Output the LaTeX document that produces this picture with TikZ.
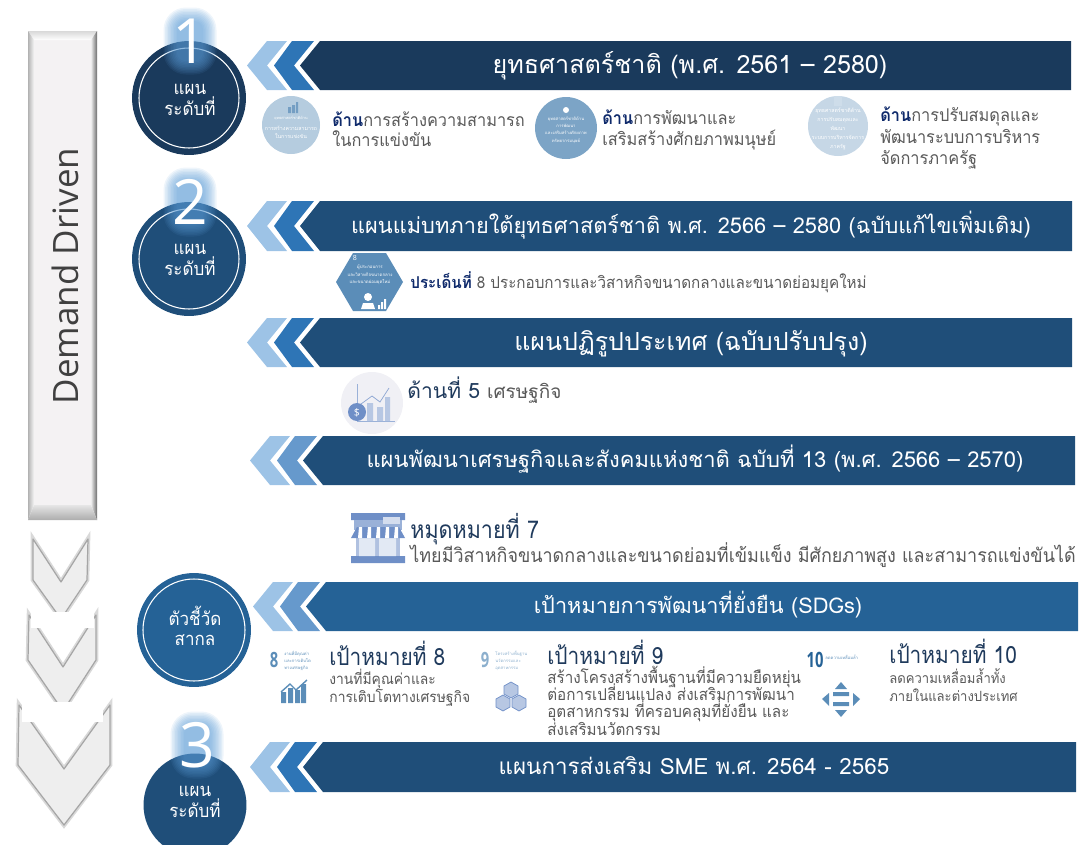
\documentclass[tikz,border=0pt]{standalone}
\usepackage{fontspec}
\setmainfont[Script=Thai]{Loma}
\newfontfamily\latinfont{Open Sans}
\newfontfamily\bodyfont[Script=Thai,FakeStretch=0.93]{Loma}
\newfontfamily\headfont[Script=Thai,FakeStretch=0.88]{Loma}
\newfontfamily\sdgfont[FakeStretch=0.7]{Open Sans}

\definecolor{navyA}{HTML}{1A3A5C}
\definecolor{navyB}{HTML}{1F4E79}
\definecolor{navyC}{HTML}{256296}
\definecolor{midA}{HTML}{2E75B6}
\definecolor{midB}{HTML}{6699CC}
\definecolor{lightA}{HTML}{9DC3E6}
\definecolor{glowblue}{HTML}{5B9BD5}
\definecolor{headtext}{HTML}{0F2A6B}
\definecolor{bodytext}{HTML}{595959}
\definecolor{goaltext}{HTML}{1F3A5C}
\definecolor{iconblue}{HTML}{5B8DB8}
\definecolor{shopblue}{HTML}{6F8FC7}
\definecolor{boxface}{HTML}{F4F2F3}

\tikzset{
  plancircle/.style={circle,inner sep=0pt,minimum size=2.28cm},
  circletext/.style={text=white,inner sep=0pt,anchor=base,font=\bodyfont\fontsize{10.4}{12}\selectfont},
  bignum/.style={text=white,inner sep=0pt,font=\latinfont\fontsize{35.5}{40}\selectfont},
  titletext/.style={text=white,inner sep=0pt,anchor=base},
  bodyline/.style={text=bodytext,anchor=base west,inner sep=0pt,font=\bodyfont\fontsize{10}{12}\selectfont},
  goalhead/.style={text=goaltext,anchor=base west,inner sep=0pt,font=\headfont\fontsize{13.5}{16}\selectfont},
  goalline/.style={text=bodytext,anchor=base west,inner sep=0pt,font=\bodyfont\fontsize{9.3}{10}\selectfont},
  tinytext/.style={inner sep=0pt,align=center,font=\fontsize{3}{4.6}\selectfont},
  tinyleft/.style={text=iconblue,inner sep=0pt,anchor=north west,align=left,font=\fontsize{2.4}{4}\selectfont},
  goalnum/.style={text=iconblue,inner sep=0pt,font=\sdgfont\bfseries\fontsize{12}{13}\selectfont},
  chevshape/.style={fill=gray!13,draw=gray!70,line width=0.7pt,line join=round,
    preaction={draw=gray!30,line width=2.6pt}},
}

\begin{document}
\begin{tikzpicture}[x=0.02cm,y=-0.02cm]
  \useasboundingbox (0,0) rectangle (1082,845);

  % the tall bevelled box
  \fill[boxface] (34,40) rectangle (91,505);
  \shade[top color=gray!30,bottom color=white] (28,31) -- (97,31) -- (91,40) -- (34,40) -- cycle;
  \shade[left color=gray!60,right color=gray!8] (28,31) -- (34,40) -- (34,505) -- (28,520) -- cycle;
  \shade[left color=gray!15,right color=gray!85!black] (97,31) -- (97,520) -- (91,505) -- (91,40) -- cycle;
  \shade[top color=gray!20,bottom color=gray!65] (28,520) -- (97,520) -- (91,505) -- (34,505) -- cycle;
  \node[rotate=90,text=black!75,inner sep=0pt,font=\latinfont\fontsize{19.9}{22}\selectfont] (driven) at (65,276) {Demand Driven};

  % the three chevrons under the box
  \draw[chevshape] (33,539) -- (61,582) -- (88,539) -- (87,580) -- (61,619) -- (33,580) -- cycle;
  \draw[chevshape] (29,615) -- (63,667) -- (96,615) -- (96,660) -- (63,711) -- (28,660) -- cycle;
  \fill[white] (31,612) rectangle (94,628);
  \draw[chevshape] (19,705) -- (64,769) -- (110,705) -- (110,765) -- (64,825) -- (18,765) -- cycle;
  \fill[white] (22,702) rectangle (103,722);

  % the banners with their two chevrons
  \foreach \t/\ya/\yb/\rr/\bandcol/\midcol in {
      247/41/90/1071/navyA/midA, 247/201/251/1072/navyB/midA, 247/318/367/1072/navyB/midA,
      250/436/485/1075/navyB/midB, 253/582/631/1078/navyC/midB, 250/742/792/1076/navyB/midA} {
    \pgfmathsetmacro\ym{(\ya+\yb)/2}
    \fill[lightA] (\t,\ym) -- (\t+20,\ya) -- (\t+40,\ya) -- (\t+20,\ym) -- (\t+40,\yb) -- (\t+20,\yb) -- cycle;
    \fill[\midcol] (\t+27,\ym) -- (\t+45,\ya) -- (\t+67,\ya) -- (\t+47,\ym) -- (\t+67,\yb) -- (\t+45,\yb) -- cycle;
    \fill[\bandcol] (\t+53,\ym) -- (\t+73,\ya) -- (\rr,\ya) -- (\rr,\yb) -- (\t+73,\yb) -- cycle;
  }
  \node[titletext,font=\fontsize{14.3}{16}\selectfont] (title1) at (690,73) {ยุทธศาสตร์ชาติ (พ.ศ. 2561 – 2580)};
  \node[titletext,font=\fontsize{12.4}{16}\selectfont] (title2) at (691,233) {แผนแม่บทภายใต้ยุทธศาสตร์ชาติ พ.ศ. 2566 – 2580 (ฉบับแก้ไขเพิ่มเติม)};
  \node[titletext,font=\fontsize{14.2}{16}\selectfont] (title3) at (691,350) {แผนปฏิรูปประเทศ (ฉบับปรับปรุง)};
  \node[titletext,font=\fontsize{12.5}{16}\selectfont] (title4) at (695,467) {แผนพัฒนาเศรษฐกิจและสังคมแห่งชาติ ฉบับที่ 13 (พ.ศ. 2566 – 2570)};
  \node[titletext,font=\fontsize{12.35}{16}\selectfont] (title5) at (698,613) {เป้าหมายการพัฒนาที่ยั่งยืน (SDGs)};
  \node[titletext,font=\fontsize{12.75}{16}\selectfont] (title6) at (694,774) {แผนการส่งเสริม SME พ.ศ. 2564 - 2565};

  % the round labels
  \node[plancircle,fill=navyA] (circ1) at (189,98) {};
  \node[plancircle,fill=navyB] (circ2) at (189,259) {};
  \node[plancircle,fill=navyC] (circ4) at (194,630) {};
  \node[plancircle,fill=navyB,minimum size=2.06cm] (circ3) at (195,805) {};
  \draw[white,semithick] (circ1) circle (50);
  \draw[white,semithick] (circ2) circle (50);
  \draw[white,semithick] (circ4) circle (51);

  % the glowing numbers
  \foreach \cx/\ya/\yb in {190/22/60, 190/182/222, 197/726/764} {
    \foreach \g in {1,2.5,...,14.5} {
      \fill[glowblue,opacity=0.1,rounded corners=4+0.6*\g] (\cx-12-\g,\ya-\g) rectangle (\cx+12+\g,\yb+\g);
    }
  }
  \node[circletext] (plan1a) at (190,94) {แผน};
  \node[circletext] (plan1b) at (190,115) {ระดับที่};
  \node[circletext] (plan2a) at (190,254) {แผน};
  \node[circletext] (plan2b) at (190,275) {ระดับที่};
  \node[circletext] (sdga) at (195,625) {ตัวชี้วัด};
  \node[circletext] (sdgb) at (195,645) {สากล};
  \node[circletext] (plan3a) at (195,796) {แผน};
  \node[circletext] (plan3b) at (195,817) {ระดับที่};
  \node[bignum] (num1) at (190,41) {1};
  \node[bignum] (num2) at (190,202) {2};
  \node[bignum] (num3) at (197,745) {3};

  % first row
  \fill[iconblue!45] (291,125) circle (29);
  \fill[iconblue!85] (288,107) rectangle (291,113) (292,105) rectangle (295,113) (296,102) rectangle (298,113);
  \node[tinytext,text=white,font=\fontsize{2.2}{3}\selectfont] (icon1top) at (291,118) {ยุทธศาสตร์ชาติด้าน};
  \node[tinytext,text=white] (icon1) at (291,132) {การสร้างความสามารถ\\ในการแข่งขัน};
  \node[bodyline] (side1a) at (332,126) {\textcolor{headtext}{\bfseries ด้าน}การสร้างความสามารถ};
  \node[bodyline] (side1b) at (332,146) {ในการแข่งขัน};
  \fill[iconblue!80] (566,128) circle (31);
  \fill[white] (566,110) circle (3);
  \node[tinytext,text=white,font=\fontsize{2.4}{4.2}\selectfont] (icon2) at (566,130) {ยุทธศาสตร์ชาติด้าน\\การพัฒนา\\และเสริมสร้างศักยภาพ\\ทรัพยากรมนุษย์};
  \node[bodyline] (side2a) at (602,124) {\textcolor{headtext}{\bfseries ด้าน}การพัฒนาและ};
  \node[bodyline] (side2b) at (602,145) {เสริมสร้างศักยภาพมนุษย์};
  \fill[iconblue!35] (838,126) circle (30);
  \fill[white!70!iconblue] (834,96) rectangle (842,106);
  \node[tinytext,text=white,font=\fontsize{3}{5.2}\selectfont] (icon3) at (838,129) {ยุทธศาสตร์ชาติด้าน\\การปรับสมดุลและ\\พัฒนา\\ระบบการบริหารจัดการ\\ภาครัฐ};
  \node[bodyline] (side3a) at (880,121) {\textcolor{headtext}{\bfseries ด้าน}การปรับสมดุลและ};
  \node[bodyline] (side3b) at (880,143) {พัฒนาระบบการบริหาร};
  \node[bodyline] (side3c) at (880,164) {จัดการภาครัฐ};

  % second row
  \fill[iconblue] (336,282) -- (353,253) -- (386,253) -- (403,282) -- (386,311) -- (353,311) -- cycle;
  \node[tinytext,text=white,font=\latinfont\fontsize{4}{5}\selectfont] (hex8) at (355,258) {8};
  \node[tinytext,text=white,font=\fontsize{2.5}{4.4}\selectfont] (hextext) at (370,275) {ผู้ประกอบการ\\และวิสาหกิจขนาดกลาง\\และขนาดย่อมยุคใหม่};
  \fill[white] (368,297) circle (4) (361,309) -- (363,303) -- (373,303) -- (375,309) -- cycle;
  \fill[white] (378,309) rectangle (380,305) (381,309) rectangle (383,302) (384,309) rectangle (386,299);
  \node[bodyline,font=\bodyfont\fontsize{9.3}{11}\selectfont] (issue8) at (410,288) {\textcolor{headtext}{\bfseries ประเด็นที่} 8 ประกอบการและวิสาหกิจขนาดกลางและขนาดย่อมยุคใหม่};

  % third row
  \fill[blue!20!gray!10] (372,403) circle (31);
  \draw[shopblue!70] (357,384) -- (357,421) -- (395,421);
  \fill[shopblue!50] (367,403) rectangle (373,421) (377,407) rectangle (383,421) (385,397) rectangle (390,421);
  \draw[shopblue!80] (361,404) -- (372,396) -- (380,402) -- (389,388);
  \fill[shopblue] (357,412) circle (9);
  \node[inner sep=0pt,text=white,font=\latinfont\fontsize{6}{7}\selectfont] (dollar) at (357,413) {\$};
  \node[goalhead,font=\fontsize{12}{15}\selectfont] (part5) at (407,398) {ด้านที่ 5 \textcolor{bodytext}{\fontsize{10.8}{12}\selectfont เศรษฐกิจ}};

  % fourth row
  \fill[shopblue] (351,513) rectangle (405,520) (351,556) rectangle (405,563);
  \fill[shopblue!70] (354,520) rectangle (402,530);
  \fill[white!70!shopblue] (383,517) rectangle (400,524);
  \fill[shopblue!55] (356,530) rectangle (400,556);
  \fill[white!80!shopblue] (359,538) rectangle (375,556) (379,538) rectangle (396,556);
  \fill[shopblue] (351,538) -- (357,527) -- (399,527) -- (405,538) -- cycle;
  \foreach \sx in {359,368,...,395} {
    \fill[white] (\sx,527) -- (\sx+3,527) -- (\sx+3,538) -- (\sx-1,538) -- cycle;
  }
  \node[goalhead,font=\headfont\fontsize{13.9}{16}\selectfont] (pin7) at (410,538) {หมุดหมายที่ 7};
  \node[bodyline,font=\bodyfont\fontsize{11}{13}\selectfont] (pin7text) at (410,562) {ไทยมีวิสาหกิจขนาดกลางและขนาดย่อมที่เข้มแข็ง มีศักยภาพสูง และสามารถแข่งขันได้};

  % sdg row
  \node[goalnum] (goal8num) at (274,660) {8};
  \node[tinyleft] (goal8tiny) at (284,651) {งานที่มีคุณค่า\\และการเติบโต\\ทางเศรษฐกิจ};
  \fill[iconblue] (281,703) rectangle (286,692) (288,703) rectangle (293,688) (295,703) rectangle (300,690) (301,703) rectangle (306,684);
  \draw[iconblue,thick] (281,692) -- (290,684) -- (296,690) -- (307,680);
  \node[goalhead] (goal8) at (329,665) {เป้าหมายที่ 8};
  \node[goalline,font=\bodyfont\fontsize{8.5}{10}\selectfont] (goal8a) at (329,684) {งานที่มีคุณค่าและ};
  \node[goalline,font=\bodyfont\fontsize{8.5}{10}\selectfont] (goal8b) at (329,702) {การเติบโตทางเศรษฐกิจ};

  \node[goalnum,text=iconblue!70] (goal9num) at (485,660) {9};
  \node[tinyleft,text=iconblue!70] (goal9tiny) at (495,651) {โครงสร้างพื้นฐาน\\นวัตกรรมและ\\อุตสาหกรรม};
  \foreach \cx/\cy in {511/690, 503/703, 519/703} {
    \fill[shopblue!50,draw=shopblue] (\cx-7,\cy-4) -- (\cx,\cy-8) -- (\cx+7,\cy-4) -- (\cx+7,\cy+4) -- (\cx,\cy+8) -- (\cx-7,\cy+4) -- cycle;
  }
  \node[goalhead] (goal9) at (547,664) {เป้าหมายที่ 9};
  \node[goalline] (goal9a) at (547,683) {สร้างโครงสร้างพื้นฐานที่มีความยืดหยุ่น};
  \node[goalline] (goal9b) at (547,700) {ต่อการเปลี่ยนแปลง ส่งเสริมการพัฒนา};
  \node[goalline] (goal9c) at (547,717) {อุตสาหกรรม ที่ครอบคลุมที่ยั่งยืน และ};
  \node[goalline] (goal9d) at (547,735) {ส่งเสริมนวัตกรรม};

  \node[goalnum,text=navyC] (goal10num) at (815,660) {10};
  \node[tinyleft] (goal10tiny) at (825,655) {ลดความเหลื่อมล้ำ};
  \fill[iconblue] (841,682) -- (847,689) -- (835,689) -- cycle
                  (841,717) -- (847,710) -- (835,710) -- cycle
                  (822,699) -- (829,693) -- (829,706) -- cycle
                  (860,699) -- (853,693) -- (853,706) -- cycle
                  (833,692) rectangle (849,696) (833,702) rectangle (849,706);
  \node[goalhead] (goal10) at (889,663) {เป้าหมายที่ 10};
  \node[goalline,font=\bodyfont\fontsize{8}{10}\selectfont] (goal10a) at (889,683) {ลดความเหลื่อมล้ำทั้ง};
  \node[goalline,font=\bodyfont\fontsize{8}{10}\selectfont] (goal10b) at (889,701) {ภายในและต่างประเทศ};
\end{tikzpicture}
\end{document}
